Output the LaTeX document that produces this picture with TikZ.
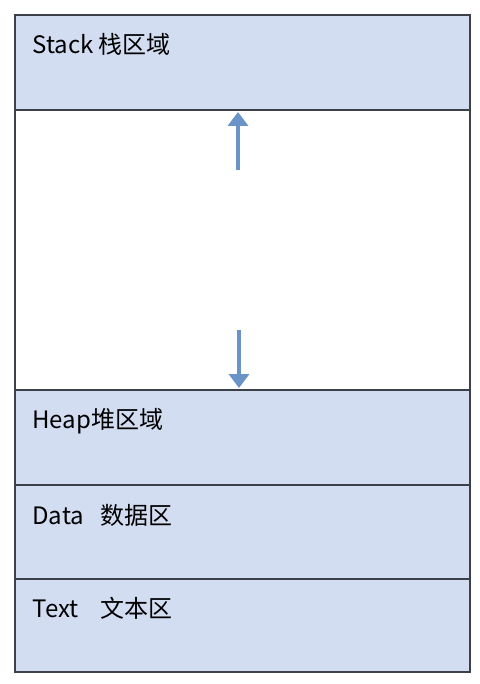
\documentclass[tikz,border=0pt]{standalone}
\usepackage{fontspec}
\setmainfont{Noto Sans CJK SC}
\usepackage{tikz}
\usetikzlibrary{arrows.meta}
\definecolor{segfill}{HTML}{D3DDF2}
\definecolor{segline}{HTML}{3C4149}
\definecolor{arrblue}{HTML}{6A93C8}
\tikzset{
  seg/.style={draw=segline,line width=1pt,fill=segfill},
  gap/.style={draw=segline,line width=1pt,fill=white},
  lbl/.style={anchor=west,inner sep=0pt,font=\fontsize{12}{14}\selectfont},
  growarrow/.style={-{Triangle[width=10pt,length=7pt]},draw=arrblue,line width=2.2pt}
}
\begin{document}
\begin{tikzpicture}[x=0.5pt,y=-0.5pt]
\useasboundingbox (0,0) rectangle (480,684);
\fill[white] (0,0) rectangle (480,684);
% memory segments, top to bottom
\draw[seg] (15,15) rectangle (470,110);
\draw[gap] (15,110) rectangle (470,390);
\draw[seg] (15,390) rectangle (470,485);
\draw[seg] (15,485) rectangle (470,579);
\draw[seg] (15,579) rectangle (470,672);
\node[lbl] (stack) at (32,44) {Stack 栈区域};
\node[lbl] (heap) at (32,421) {Heap堆区域};
\node[lbl] (data) at (32,515) {Data\hspace{8pt}数据区};
\node[lbl] (text) at (32,608) {Text\hspace{11pt}文本区};
% growth directions
\coordinate (upfrom) at (238,170);
\coordinate (upto) at (238,112);
\coordinate (downfrom) at (239,330);
\coordinate (downto) at (239,388);
\draw[growarrow] (upfrom) -- (upto);
\draw[growarrow] (downfrom) -- (downto);
\end{tikzpicture}
\end{document}
